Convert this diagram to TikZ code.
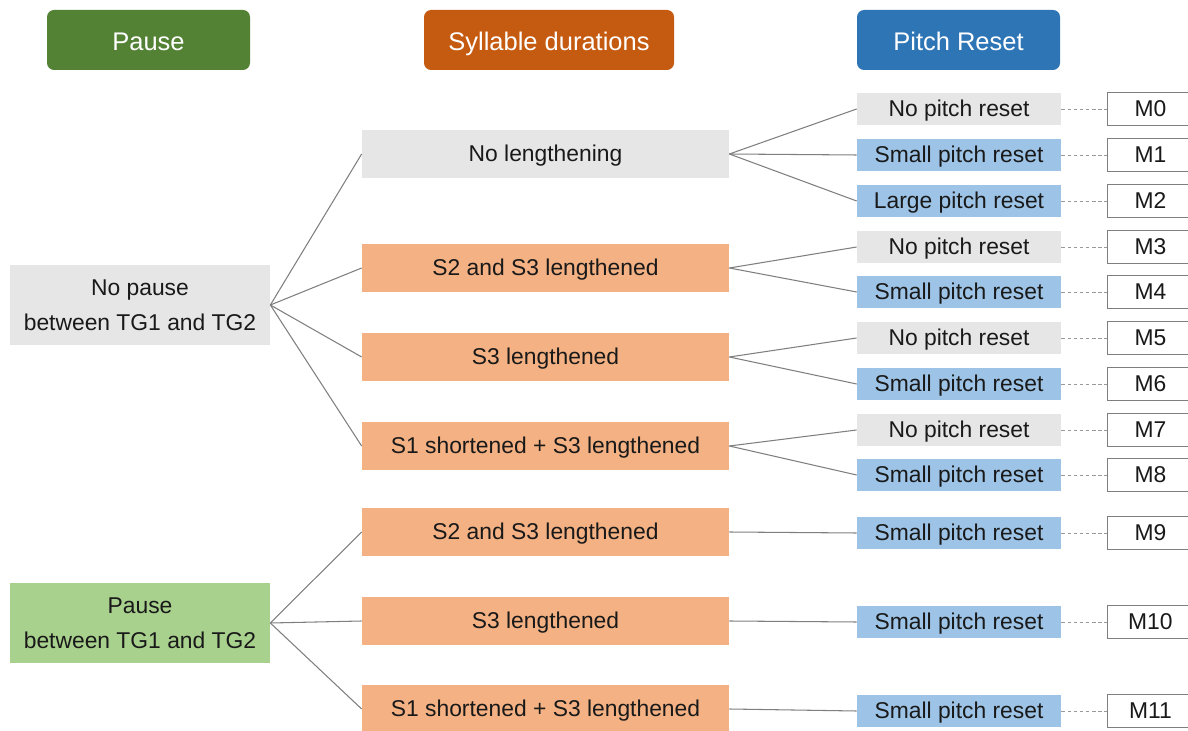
\documentclass[tikz,border=0pt]{standalone}
\usepackage{fontspec}
\setmainfont{Liberation Sans}
\usepackage{xcolor}
\usetikzlibrary{positioning}

\definecolor{hgreen}{HTML}{548235}
\definecolor{horange}{HTML}{C55A11}
\definecolor{hblue}{HTML}{2E75B6}
\definecolor{lgray}{HTML}{E7E6E6}
\definecolor{lgreen}{HTML}{A9D18E}
\definecolor{lorange}{HTML}{F4B183}
\definecolor{lblue}{HTML}{9DC3E6}
\definecolor{lline}{HTML}{7F7F7F}

\begin{document}
\begin{tikzpicture}[
  font=\fontsize{13}{20}\selectfont,
  box/.style={inner sep=0pt, text=black!90, text height=11.5pt, text depth=2.5pt},
  head/.style={box, rounded corners=4pt, text=white, font=\fontsize{14.5}{18}\selectfont,
               minimum height=1.2cm, text height=13pt, text depth=1.6pt},
  cond/.style={inner sep=0pt, text=black!90, align=center,
               minimum width=5.2cm, minimum height=1.6cm},
  dur/.style={box, minimum width=7.34cm, minimum height=0.96cm},
  pitch/.style={box, minimum width=4.08cm, minimum height=0.64cm},
  model/.style={box, draw=lline, fill=white, line width=0.6pt,
                minimum width=1.7cm, minimum height=0.66cm},
  link/.style={draw=lline, line width=0.6pt},
  dots/.style={draw=lline!80, line width=0.5pt, dash pattern=on 2pt off 1.5pt}]

\clip (0,0) rectangle (23.76,-14.62);

% column headers
\node[head, fill=hgreen, minimum width=4.06cm] (hpause) at (2.97,-0.8) {Pause};
\node[head, fill=horange, minimum width=5cm] (hdur) at (10.98,-0.8) {Syllable durations};
\node[head, fill=hblue, minimum width=4.06cm] (hpitch) at (19.17,-0.8) {Pitch Reset};

% pause condition
\node[cond, fill=lgray] (nopause) at (2.8,-6.1) {No pause\\between TG1 and TG2};
\node[cond, fill=lgreen] (pause) at (2.8,-12.46) {Pause\\between TG1 and TG2};

% syllable durations
\node[dur, fill=lgray] (d0) at (10.91,-3.08) {No lengthening};
\node[dur, fill=lorange] (d1) at (10.91,-5.36) {S2 and S3 lengthened};
\node[dur, fill=lorange] (d2) at (10.91,-7.14) {S3 lengthened};
\node[dur, fill=lorange] (d3) at (10.91,-8.92) {S1 shortened + S3 lengthened};
\node[dur, fill=lorange] (d4) at (10.91,-10.64) {S2 and S3 lengthened};
\node[dur, fill=lorange] (d5) at (10.91,-12.42) {S3 lengthened};
\node[dur, fill=lorange] (d6) at (10.91,-14.18) {S1 shortened + S3 lengthened};

% pitch reset
\node[pitch, fill=lgray] (p0) at (19.18,-2.18) {No pitch reset};
\node[pitch, fill=lblue] (p1) at (19.18,-3.10) {Small pitch reset};
\node[pitch, fill=lblue] (p2) at (19.18,-4.02) {Large pitch reset};
\node[pitch, fill=lgray] (p3) at (19.18,-4.94) {No pitch reset};
\node[pitch, fill=lblue] (p4) at (19.18,-5.84) {Small pitch reset};
\node[pitch, fill=lgray] (p5) at (19.18,-6.76) {No pitch reset};
\node[pitch, fill=lblue] (p6) at (19.18,-7.68) {Small pitch reset};
\node[pitch, fill=lgray] (p7) at (19.18,-8.60) {No pitch reset};
\node[pitch, fill=lblue] (p8) at (19.18,-9.50) {Small pitch reset};
\node[pitch, fill=lblue] (p9) at (19.18,-10.66) {Small pitch reset};
\node[pitch, fill=lblue] (p10) at (19.18,-12.44) {Small pitch reset};
\node[pitch, fill=lblue] (p11) at (19.18,-14.22) {Small pitch reset};

% models
\foreach \i in {0,...,11}
  \node[model, right=0.92cm of p\i] (m\i) {M\i};

% edges
\foreach \d in {d0,d1,d2,d3}
  \draw[link] (nopause.east) -- (\d.west);
\foreach \d in {d4,d5,d6}
  \draw[link] (pause.east) -- (\d.west);
\draw[link] (d0.east) -- (p0.west);
\draw[link] (d0.east) -- (p1.west);
\draw[link] (d0.east) -- (p2.west);
\draw[link] (d1.east) -- (p3.west);
\draw[link] (d1.east) -- (p4.west);
\draw[link] (d2.east) -- (p5.west);
\draw[link] (d2.east) -- (p6.west);
\draw[link] (d3.east) -- (p7.west);
\draw[link] (d3.east) -- (p8.west);
\draw[link] (d4.east) -- (p9.west);
\draw[link] (d5.east) -- (p10.west);
\draw[link] (d6.east) -- (p11.west);
\foreach \i in {0,...,11}
  \draw[dots] (p\i) -- (m\i);
\end{tikzpicture}
\end{document}
